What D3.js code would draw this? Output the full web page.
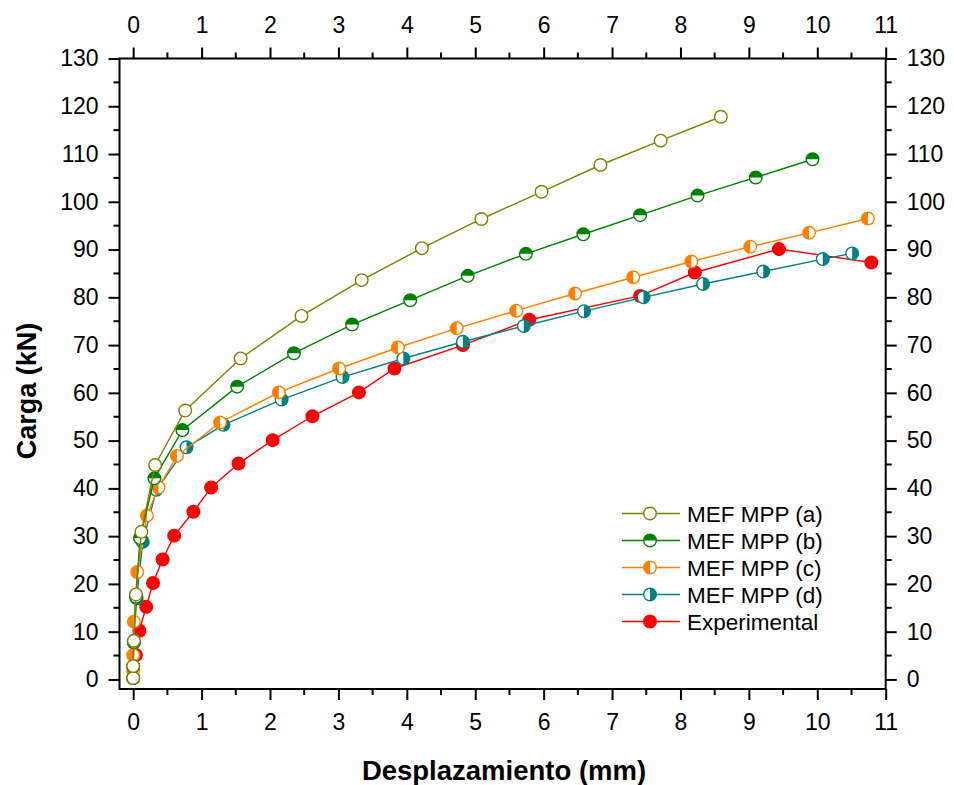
<!DOCTYPE html>
<html>
<head>
<meta charset="utf-8">
<script src="https://cdn.jsdelivr.net/npm/d3@7"></script>
<style>
  body { margin: 0; background: white; }
  text { font-family: Arial, "Liberation Sans", sans-serif; }
</style>
</head>
<body>
<div id="container"></div>
<script>
// values: [displacement mm, load kN]
let serieA = [[0,0.3],[0,2.8],[0.01,8.1],[0.04,17.8],[0.12,30.9],[0.32,44.9],[0.76,56.3],[1.57,67.2],[2.46,76.1],[3.34,83.6],[4.22,90.3],[5.09,96.4],[5.97,102.1],[6.83,107.7],[7.71,112.8],[8.59,117.8]];
let serieB = [[0,0.3],[0,2.7],[0.01,7.8],[0.04,17.3],[0.1,29.6],[0.31,42.1],[0.72,52.2],[1.52,61.3],[2.35,68.3],[3.2,74.3],[4.05,79.4],[4.89,84.5],[5.74,89.1],[6.58,93.2],[7.41,97.2],[8.25,101.3],[9.1,105.1],[9.93,108.9]];
let serieC = [[0,0.3],[0,1.8],[0,5.1],[0.01,12.1],[0.06,22.5],[0.2,34.3],[0.37,40.2],[0.64,46.8],[1.27,53.8],[2.13,60.1],[3.01,65.1],[3.87,69.5],[4.73,73.5],[5.6,77.2],[6.46,80.8],[7.31,84.2],[8.16,87.5],[9.02,90.6],[9.88,93.5],[10.74,96.5]];
let serieD = [[0,0.3],[0,2.7],[0.01,7.7],[0.05,17.0],[0.14,28.8],[0.34,39.7],[0.78,48.6],[1.32,53.3],[2.17,58.6],[3.06,63.3],[3.95,67.2],[4.82,70.7],[5.71,74.0],[6.59,77.1],[7.46,80.0],[8.33,82.8],[9.21,85.4],[10.08,88.0],[10.51,89.2]];
let serieExp = [[0.04,5.1],[0.09,10.2],[0.19,15.2],[0.29,20.2],[0.43,25.1],[0.6,30.1],[0.88,35.1],[1.14,40.2],[1.54,45.2],[2.04,50.1],[2.62,55.1],[3.3,60.1],[3.82,65.1],[4.82,70.0],[5.79,75.3],[7.41,80.3],[8.21,85.2],[9.44,90.1],[10.79,87.3]];

let legendNames = ["MEF MPP (a)", "MEF MPP (b)", "MEF MPP (c)", "MEF MPP (d)", "Experimental"];
let xTicks = d3.range(0, 12, 1);
let yTicks = d3.range(0, 140, 10);

let w = 954;
let h = 785;

let viz = d3.select("#container")
  .append("svg")
    .attr("width", w)
    .attr("height", h)
    .style("background-color", "white")
;

let xScale = d3.scaleLinear().domain([-0.2, 11]).range([119.5, 885.7]);
let yScale = d3.scaleLinear().domain([-2, 130]).range([689, 58.5]);

// marker styles: half says which half is filled
let series = [
  {name: legendNames[0], data: serieA, color: "#808000", half: "none"},
  {name: legendNames[1], data: serieB, color: "#008000", half: "top"},
  {name: legendNames[2], data: serieC, color: "#ff8000", half: "left"},
  {name: legendNames[3], data: serieD, color: "#008080", half: "right"},
  {name: legendNames[4], data: serieExp, color: "#ff0000", half: "full"}
];

let r = 6.3;

function halfPath(half){
  if (half === "top") {
    return "M " + (-r) + " 0 A " + r + " " + r + " 0 0 1 " + r + " 0 Z";
  } else if (half === "left") {
    return "M 0 " + (-r) + " A " + r + " " + r + " 0 0 0 0 " + r + " Z";
  } else if (half === "right") {
    return "M 0 " + (-r) + " A " + r + " " + r + " 0 0 1 0 " + r + " Z";
  }
  return null;
}

function drawMarker(g, s){
  g.append("circle")
    .attr("r", r)
    .style("fill", s.half === "full" ? s.color : "white")
    .style("stroke", s.color)
    .style("stroke-width", 1.4)
  ;
  let p = halfPath(s.half);
  if (p) {
    g.append("path")
      .attr("d", p)
      .style("fill", s.color)
    ;
  }
}

let line = d3.line()
  .x(d => xScale(d[0]))
  .y(d => yScale(d[1]))
;

// draw order: experimental underneath, (a) on top
let drawOrder = [4, 3, 2, 1, 0];
drawOrder.forEach(function(k){
  let s = series[k];
  viz.append("path")
    .attr("d", line(s.data))
    .attr("fill", "none")
    .style("stroke", s.color)
    .style("stroke-width", 1.4)
  ;
  let marks = viz.selectAll(".mark" + k).data(s.data).enter()
    .append("g")
      .attr("class", "mark" + k)
      .attr("transform", d => "translate(" + xScale(d[0]) + "," + yScale(d[1]) + ")")
  ;
  marks.each(function(){ drawMarker(d3.select(this), s); });
});

// axes, ticks outward on all four sides
let bottomAxis = d3.axisBottom(xScale).tickValues(xTicks).tickSize(11).tickPadding(14).tickFormat(d3.format("d"));
let topAxis = d3.axisTop(xScale).tickValues(xTicks).tickSize(11).tickPadding(15).tickFormat(d3.format("d"));
let leftAxis = d3.axisLeft(yScale).tickValues(yTicks).tickSize(11).tickPadding(10).tickFormat(d3.format("d"));
let rightAxis = d3.axisRight(yScale).tickValues(yTicks).tickSize(11).tickPadding(10).tickFormat(d3.format("d"));

let xMinor = d3.range(0.5, 11, 1);
let yMinor = d3.range(5, 130, 10);

function styleAxis(g){
  g.select(".domain").remove();
  g.selectAll("line").style("stroke", "black").style("stroke-width", 2);
  g.selectAll("text")
    .style("font-size", "23px")
    .style("fill", "black")
  ;
}

viz.append("g")
  .attr("transform", "translate(0," + 689 + ")")
  .call(bottomAxis)
  .call(styleAxis)
;
viz.append("g")
  .attr("transform", "translate(0," + 58.5 + ")")
  .call(topAxis)
  .call(styleAxis)
;
viz.append("g")
  .attr("transform", "translate(" + 119.5 + ",0)")
  .call(leftAxis)
  .call(styleAxis)
;
viz.append("g")
  .attr("transform", "translate(" + 885.7 + ",0)")
  .call(rightAxis)
  .call(styleAxis)
;

// minor ticks
let minor = viz.append("g")
  .style("stroke", "black")
  .style("stroke-width", 2)
;
xMinor.forEach(function(v){
  minor.append("line").attr("x1", xScale(v)).attr("x2", xScale(v)).attr("y1", 689).attr("y2", 695);
  minor.append("line").attr("x1", xScale(v)).attr("x2", xScale(v)).attr("y1", 58.5).attr("y2", 52.5);
});
yMinor.forEach(function(v){
  minor.append("line").attr("x1", 119.5).attr("x2", 113.5).attr("y1", yScale(v)).attr("y2", yScale(v));
  minor.append("line").attr("x1", 885.7).attr("x2", 891.7).attr("y1", yScale(v)).attr("y2", yScale(v));
});

// frame
viz.append("rect")
  .attr("x", 119.5)
  .attr("y", 58.5)
  .attr("width", 885.7 - 119.5)
  .attr("height", 689 - 58.5)
  .attr("fill", "none")
  .style("stroke", "black")
  .style("stroke-width", 2)
;

// titles
viz.append("text")
  .text("Desplazamiento (mm)")
  .attr("x", 504)
  .attr("y", 780)
  .attr("text-anchor", "middle")
  .style("font-size", "27.5px")
  .style("font-weight", "bold")
;
viz.append("text")
  .text("Carga (kN)")
  .attr("transform", "translate(36,391) rotate(-90)")
  .attr("text-anchor", "middle")
  .style("font-size", "27px")
  .style("font-weight", "bold")
;

// legend
let legend = viz.selectAll(".legendItem").data(series).enter()
  .append("g")
    .attr("class", "legendItem")
    .attr("transform", (d, i) => "translate(650," + (513.5 + i * 27) + ")")
;
legend.append("line")
  .attr("x1", -28)
  .attr("x2", 30)
  .style("stroke", d => d.color)
  .style("stroke-width", 1.4)
;
legend.each(function(d){ drawMarker(d3.select(this), d); });
legend.append("text")
  .text(d => d.name)
  .attr("x", 37)
  .attr("y", 8)
  .style("font-size", "22.5px")
;
</script>
</body>
</html>
